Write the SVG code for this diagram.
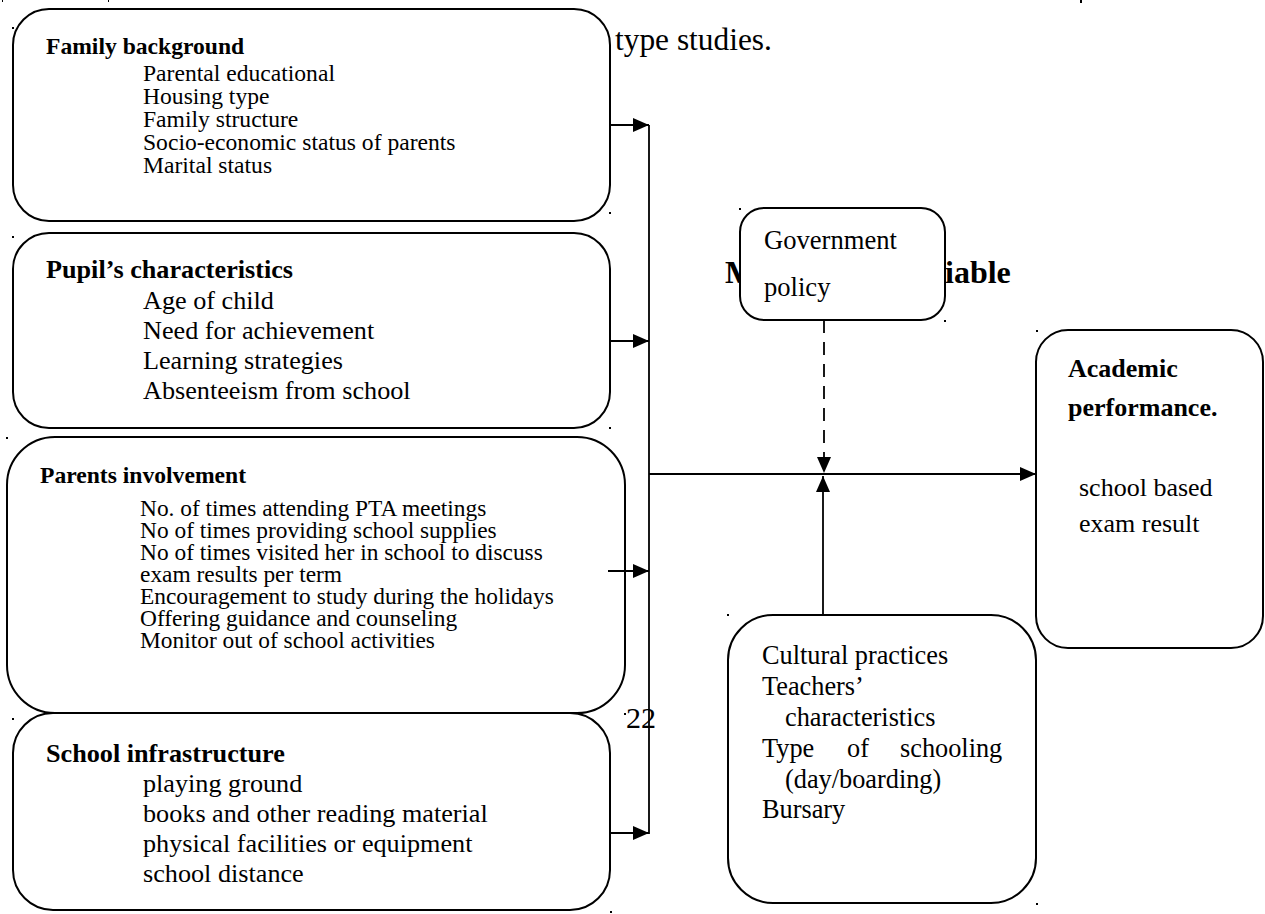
<svg xmlns="http://www.w3.org/2000/svg" width="1265" height="914" viewBox="0 0 1265 914">
<style>
.box{fill:#fff;stroke:#000;stroke-width:2}
.t{font-family:"Liberation Serif","Times New Roman",serif;fill:#000}
.b{font-weight:bold}
.ln{stroke:#000;stroke-width:1.8;fill:none}
.dot{fill:#000}
</style>
<defs>
<marker id="ah" viewBox="0 0 16 14" refX="16" refY="7" markerWidth="16" markerHeight="14" markerUnits="userSpaceOnUse" orient="auto">
<path d="M0,0 L16,7 L0,14 z" fill="#000"/>
</marker>
</defs>
<rect width="1265" height="914" fill="#fff"/>
<text class="t" x="615" y="50" font-size="31.4">type studies.</text>
<text class="t b" x="725" y="283" font-size="32">M</text>
<text class="t b" x="945" y="283" font-size="32">iable</text>
<text class="t" x="626" y="728" font-size="30">22</text>
<g id="family">
<rect class="box" x="13" y="9" width="597" height="212" rx="36"/>
<text class="t b" x="46" y="54" font-size="23.6">Family background</text>
<text class="t" font-size="23.6">
<tspan x="143" y="81">Parental educational</tspan>
<tspan x="143" y="104">Housing type</tspan>
<tspan x="143" y="127">Family structure</tspan>
<tspan x="143" y="150">Socio-economic status of parents</tspan>
<tspan x="143" y="173">Marital status</tspan>
</text>
</g>
<g id="pupil">
<rect class="box" x="13" y="233" width="597" height="195" rx="36"/>
<text class="t b" x="46" y="278" font-size="26.2">Pupil’s characteristics</text>
<text class="t" font-size="26.2">
<tspan x="143" y="309">Age of child</tspan>
<tspan x="143" y="339">Need for achievement</tspan>
<tspan x="143" y="369">Learning strategies</tspan>
<tspan x="143" y="399">Absenteeism from school</tspan>
</text>
</g>
<g id="parents">
<rect class="box" x="7" y="437" width="618" height="276" rx="48"/>
<text class="t b" x="40" y="483" font-size="23.6">Parents involvement</text>
<text class="t" font-size="23.4">
<tspan x="140" y="516">No. of times attending PTA meetings</tspan>
<tspan x="140" y="538">No of times providing school supplies</tspan>
<tspan x="140" y="560">No of times visited her in school to discuss</tspan>
<tspan x="140" y="582">exam results per term</tspan>
<tspan x="140" y="604">Encouragement to study during the holidays</tspan>
<tspan x="140" y="626">Offering guidance and counseling</tspan>
<tspan x="140" y="648">Monitor out of school activities</tspan>
</text>
</g>
<g id="infrastructure">
<rect class="box" x="13" y="713" width="597" height="197" rx="40"/>
<text class="t b" x="46" y="762" font-size="26.2">School infrastructure</text>
<text class="t" font-size="26.2">
<tspan x="143" y="792">playing ground</tspan>
<tspan x="143" y="822">books and other reading material</tspan>
<tspan x="143" y="852">physical facilities or equipment</tspan>
<tspan x="143" y="882">school distance</tspan>
</text>
</g>
<g id="government">
<rect class="box" x="740" y="208" width="205" height="112" rx="24"/>
<text class="t" font-size="26.6">
<tspan x="764" y="249">Government</tspan>
<tspan x="764" y="296">policy</tspan>
</text>
</g>
<g id="academic">
<rect class="box" x="1036" y="330" width="227" height="318" rx="32"/>
<text class="t b" font-size="26">
<tspan x="1068" y="377">Academic</tspan>
<tspan x="1068" y="416">performance.</tspan>
</text>
<text class="t" font-size="26">
<tspan x="1079" y="496">school based</tspan>
<tspan x="1079" y="532">exam result</tspan>
</text>
</g>
<g id="cultural">
<rect class="box" x="728" y="615" width="308" height="288" rx="45"/>
<text class="t" font-size="26.3">
<tspan x="762" y="664">Cultural practices</tspan>
<tspan x="762" y="695">Teachers’</tspan>
<tspan x="785" y="726">characteristics</tspan>
<tspan x="762" y="757">Type</tspan><tspan x="847" y="757">of</tspan><tspan x="900" y="757">schooling</tspan>
<tspan x="785" y="788">(day/boarding)</tspan>
<tspan x="762" y="818">Bursary</tspan>
</text>
</g>
<g id="connectors">
<line class="ln" x1="649" y1="125" x2="649" y2="834"/>
<line class="ln" x1="610" y1="125" x2="649" y2="125" marker-end="url(#ah)"/>
<line class="ln" x1="610" y1="341" x2="649" y2="341" marker-end="url(#ah)"/>
<line class="ln" x1="608" y1="571" x2="649" y2="571" marker-end="url(#ah)"/>
<line class="ln" x1="610" y1="833" x2="649" y2="833" marker-end="url(#ah)"/>
<line class="ln" x1="649" y1="474" x2="1036" y2="474" marker-end="url(#ah)"/>
<line class="ln" x1="824" y1="320" x2="824" y2="473" stroke-dasharray="13 9" marker-end="url(#ah)"/>
<line class="ln" x1="823" y1="615" x2="823" y2="476" marker-end="url(#ah)"/>
</g>
<g id="anchors">
<rect class="dot" x="2" y="0" width="1" height="2"/>
<rect class="dot" x="108" y="0" width="1" height="2"/>
<rect class="dot" x="1080" y="0" width="2" height="3"/>
<rect class="dot" x="12" y="27" width="2" height="2"/>
<rect class="dot" x="609" y="212" width="2" height="2"/>
<rect class="dot" x="12" y="236" width="2" height="2"/>
<rect class="dot" x="609" y="427" width="2" height="2"/>
<rect class="dot" x="6" y="437" width="2" height="2"/>
<rect class="dot" x="624" y="713" width="2" height="2"/>
<rect class="dot" x="12" y="718" width="2" height="2"/>
<rect class="dot" x="610" y="911" width="2" height="2"/>
<rect class="dot" x="739" y="208" width="2" height="2"/>
<rect class="dot" x="944" y="320" width="2" height="2"/>
<rect class="dot" x="1036" y="330" width="2" height="2"/>
<rect class="dot" x="727" y="614" width="2" height="2"/>
<rect class="dot" x="1036" y="903" width="2" height="2"/>
</g>
</svg>
